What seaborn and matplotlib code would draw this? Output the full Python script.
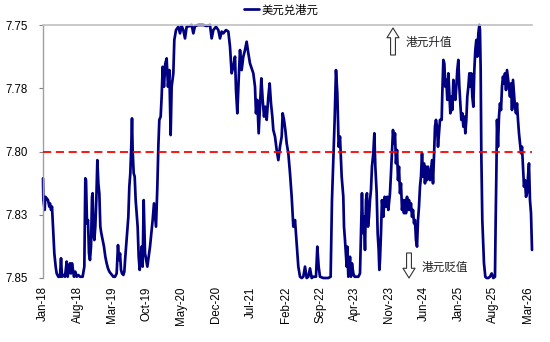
import numpy as np
import pandas as pd
import matplotlib
matplotlib.use("Agg")
import matplotlib.pyplot as plt
import seaborn as sns

# ---------------- data ----------------
# position in months since Jan-2018
month_pos = [
    0.00, 0.07, 0.34, 0.47, 0.74, 1.01, 1.28, 1.41, 1.62, 1.82, 2.09, 2.29, 2.56, 2.76, 3.10, 3.43,
    3.64, 3.84, 4.11, 4.44, 4.78, 4.98, 5.25, 5.45, 5.66, 5.86, 6.06, 6.26, 6.53, 6.80, 7.14, 7.47,
    8.01, 8.35, 8.55, 8.69, 8.89, 9.09, 9.29, 9.49, 9.70, 9.90, 10.03, 10.17, 10.37, 10.57, 10.77,
    10.98, 11.18, 11.38, 11.58, 11.78, 12.05, 12.32, 12.59, 12.86, 13.13, 13.41, 13.68, 13.94, 14.21,
    14.55, 14.88, 15.15, 15.35, 15.56, 15.76, 15.96, 16.23, 16.43, 16.63, 16.84, 17.04, 17.24, 17.44,
    17.64, 17.85, 17.98, 18.11, 18.32, 18.52, 18.72, 18.92, 19.12, 19.33, 19.53, 19.73, 19.93, 20.13,
    20.34,
    20.61, 21.08, 21.62, 22.15, 22.42, 22.83, 23.10, 23.30, 23.50, 23.77, 23.97, 24.18, 24.44, 24.71,
    24.98, 25.25, 25.52, 25.79, 25.99, 26.33, 26.53, 26.87, 27.34, 27.68, 28.01, 28.35, 28.69, 29.02,
    29.70, 30.03, 30.37, 30.71, 31.38, 32.39, 33.06, 33.74, 34.07, 34.41, 34.95, 35.42, 35.76, 36.09,
    36.43, 36.97, 37.44, 37.78, 38.11, 38.45, 38.79, 38.99, 39.26, 39.53,
    39.80, 40.13, 40.47, 40.81, 41.14, 41.48, 41.82, 42.15, 42.49, 42.83, 43.03, 43.30, 43.57, 43.84,
    44.11, 44.38, 44.65, 44.92, 45.19, 45.52, 45.79, 46.06, 46.33, 46.53, 46.87, 47.21, 47.54, 47.88,
    48.22, 48.42, 48.69, 48.96, 49.23, 49.56, 49.90, 50.24, 50.57, 50.91, 51.25, 51.58, 51.92, 52.26,
    52.59, 52.93, 53.27, 53.60, 53.94, 54.28, 54.61, 55.15, 55.42, 55.69, 55.96, 56.63, 57.64, 58.11,
    58.38, 58.65, 58.92, 59.19, 59.46, 59.73,
    60.00, 60.34, 60.67, 60.81, 61.01, 61.21, 61.35, 61.48, 61.68, 61.89, 62.02, 62.22, 62.42, 62.69,
    62.96, 63.37, 63.70, 64.04, 64.24, 64.44, 64.65, 64.85, 65.05, 65.25, 65.45, 65.66, 65.86, 66.06,
    66.26, 66.46, 66.73, 66.94, 67.14, 67.41, 67.61, 67.81, 67.95, 68.08, 68.28, 68.48, 68.75, 69.02,
    69.29, 69.56, 69.76, 70.10, 70.30, 70.51, 70.71, 70.91, 71.11, 71.31, 71.52, 71.72, 71.92, 72.12,
    72.32, 72.53, 72.73, 72.93, 73.13, 73.33, 73.54, 73.74, 73.94, 74.14, 74.34, 74.55, 74.75, 74.95,
    75.15, 75.35, 75.56, 75.76, 75.96, 76.16, 76.36, 76.57, 76.77, 76.97, 77.17, 77.37, 77.58, 77.78,
    77.98, 78.18, 78.38, 78.59, 78.79, 78.99, 79.19, 79.39, 79.60, 79.80, 80.00, 80.20,
    80.54, 80.67, 80.88, 81.08, 81.28, 81.48, 81.68, 81.89, 82.09, 82.29, 82.49, 82.69, 82.90, 83.10,
    83.30, 83.50, 83.70, 83.91, 84.11, 84.31, 84.51, 84.71, 84.92, 85.12, 85.32, 85.52, 85.72, 85.93,
    86.13, 86.33, 86.53, 86.73, 86.94, 87.14, 87.34, 87.54, 87.74, 87.95, 88.15, 88.28, 88.42, 88.55,
    88.75, 89.09, 89.36, 89.63, 89.97, 90.30, 90.64, 90.98, 91.31,
    91.45, 91.60, 91.72, 91.92, 92.12, 92.32, 92.53, 92.73, 92.93, 93.13, 93.33, 93.54, 93.74, 93.94,
    94.14, 94.34, 94.55, 94.75, 94.95, 95.15, 95.35, 95.56, 95.76, 95.96, 96.16, 96.36, 96.57, 96.77,
    96.97, 97.17, 97.37, 97.58, 97.78, 97.98, 98.18, 98.38, 98.59, 98.79,
]

usd_hkd = [
    7.8106, 7.8192, 7.8231, 7.8179, 7.8185, 7.8192, 7.8218, 7.8205, 7.8231, 7.8218, 7.8323, 7.8403,
    7.8455, 7.8482, 7.8495, 7.8495, 7.8422, 7.8495, 7.8488, 7.8495, 7.8435, 7.8495, 7.8468, 7.8442,
    7.8482, 7.8442, 7.8468, 7.8495, 7.8475, 7.8495, 7.8488, 7.8495, 7.8495, 7.8455, 7.8106, 7.8113,
    7.8284, 7.8271, 7.8403, 7.8429, 7.8376, 7.8179, 7.8165, 7.8323, 7.8350, 7.8297, 7.8192, 7.8034,
    7.8126, 7.8165, 7.8297, 7.8323, 7.8350, 7.8376, 7.8416, 7.8442, 7.8462, 7.8475, 7.8482, 7.8488,
    7.8495, 7.8495, 7.8482, 7.8370, 7.8429, 7.8403, 7.8468, 7.8482, 7.8488, 7.8475, 7.8416, 7.8363,
    7.8310, 7.8258, 7.8139, 7.8086, 7.7968, 7.7869, 7.7994, 7.8086, 7.8099, 7.8192, 7.8244, 7.8297,
    7.8416, 7.8468, 7.8429, 7.8376, 7.8455, 7.8192,
    7.8402, 7.8455, 7.8376, 7.8271, 7.8205, 7.8297, 7.8139, 7.7981, 7.7875, 7.7862, 7.7783, 7.7665,
    7.7744, 7.7652, 7.7632, 7.7744, 7.7678, 7.7935, 7.7744, 7.7691, 7.7559, 7.7520, 7.7507, 7.7533,
    7.7504, 7.7520, 7.7553, 7.7507, 7.7504, 7.7500, 7.7533, 7.7504, 7.7500, 7.7500, 7.7504, 7.7500,
    7.7553, 7.7520, 7.7507, 7.7520, 7.7553, 7.7526, 7.7533, 7.7520, 7.7526, 7.7586, 7.7691, 7.7665,
    7.7625, 7.7757, 7.7849, 7.7717,
    7.7599, 7.7678, 7.7625, 7.7599, 7.7566, 7.7612, 7.7652, 7.7671, 7.7691, 7.7744, 7.7849, 7.7796,
    7.7928, 7.7823, 7.7711, 7.7796, 7.7862, 7.7823, 7.7875, 7.7783, 7.7731, 7.7810, 7.7862, 7.7915,
    7.7941, 7.7994, 7.8034, 7.7981, 7.7941, 7.7849, 7.7875, 7.7915, 7.7968, 7.8007, 7.8086, 7.8179,
    7.8297, 7.8271, 7.8363, 7.8455, 7.8495, 7.8500, 7.8495, 7.8455, 7.8500, 7.8495, 7.8462, 7.8500,
    7.8495, 7.8495, 7.8376, 7.8455, 7.8495, 7.8500, 7.8500, 7.8495, 7.8192, 7.8034, 7.7875, 7.7678,
    7.7770, 7.7981,
    7.7941, 7.8099, 7.8179, 7.8297, 7.8350, 7.8416, 7.8455, 7.8376, 7.8495, 7.8455, 7.8416, 7.8495,
    7.8442, 7.8482, 7.8495, 7.8495, 7.8495, 7.8482, 7.8323, 7.8165, 7.8323, 7.8258, 7.8389, 7.8192,
    7.8165, 7.8297, 7.8258, 7.8192, 7.8152, 7.8060, 7.8007, 7.7928, 7.8060, 7.8165, 7.8323, 7.8389,
    7.8468, 7.8429, 7.8323, 7.8192, 7.8258, 7.8179, 7.8218, 7.8179, 7.8231, 7.8165, 7.8086, 7.7994,
    7.7915, 7.7968, 7.7928, 7.8047, 7.7994, 7.8113, 7.8060, 7.8165, 7.8126, 7.8231, 7.8192, 7.8244,
    7.8192, 7.8244, 7.8179, 7.8231, 7.8192, 7.8231, 7.8205, 7.8258, 7.8231, 7.8284, 7.8271, 7.8350,
    7.8376, 7.8271, 7.8218, 7.8139, 7.8099, 7.8007, 7.8099, 7.8047, 7.8126, 7.8060, 7.8113, 7.8060,
    7.8086, 7.8113, 7.8073, 7.8034, 7.8126, 7.8020, 7.7902, 7.7875, 7.7902, 7.7981, 7.7928, 7.7875,
    7.7875, 7.7770, 7.7638, 7.7652, 7.7744, 7.7717, 7.7796, 7.7691, 7.7770, 7.7849, 7.7783, 7.7836,
    7.7717, 7.7770, 7.7796, 7.7744, 7.7678, 7.7638, 7.7744, 7.7810, 7.7875, 7.7849, 7.7902, 7.7862,
    7.7928, 7.7875, 7.7783, 7.7744, 7.7691, 7.7744, 7.7691, 7.7783, 7.7823, 7.7678, 7.7599, 7.7559,
    7.7625, 7.7533, 7.7500, 7.7520, 7.7678, 7.8007, 7.8271, 7.8442, 7.8495, 7.8500, 7.8500, 7.8495,
    7.8482, 7.8500, 7.8495,
    7.8271, 7.8073, 7.7875, 7.7981, 7.7862, 7.7810, 7.7836, 7.7744, 7.7704, 7.7731, 7.7691, 7.7757,
    7.7678, 7.7711, 7.7744, 7.7783, 7.7731, 7.7836, 7.7717, 7.7770, 7.7823, 7.7849, 7.7810, 7.7875,
    7.7928, 7.7968, 7.8007, 7.7981, 7.8060, 7.8139, 7.8113, 7.8179, 7.8165, 7.8099, 7.8047, 7.8192,
    7.8244, 7.8389,
]

series_label = "美元兑港元"
peg_level = 7.80
y_ticks = [7.75, 7.775, 7.80, 7.825, 7.85]
y_tick_labels = ["7.75", "7.78", "7.80", "7.83", "7.85"]
x_tick_labels = ["Jan-18", "Aug-18", "Mar-19", "Oct-19", "May-20", "Dec-20", "Jul-21", "Feb-22",
                 "Sep-22", "Apr-23", "Nov-23", "Jun-24", "Jan-25", "Aug-25", "Mar-26"]
note_up = "港元升值"
note_down = "港元贬值"

# ---------------- build frame ----------------
start = pd.Timestamp("2018-01-01")
dates = start + pd.to_timedelta(np.array(month_pos) * 30.4375, unit="D")
df = pd.DataFrame({"date": dates, "rate": usd_hkd})
tick_dates = pd.to_datetime(["20" + s[-2:] + "-" + s[:3] + "-01" for s in x_tick_labels],
                            format="%Y-%b-%d")

# ---------------- style ----------------
sns.set_theme(style="white")
plt.rcParams["font.family"] = ["Liberation Sans", "Noto Sans CJK SC", "DejaVu Sans"]
plt.rcParams["axes.unicode_minus"] = False

fig = plt.figure(figsize=(5.5, 3.42), dpi=100)
ax = fig.add_axes([43 / 550, 1 - 278 / 342, (532 - 43) / 550, (278 - 25) / 342])

line_color = "#000080"
sns.lineplot(data=df, x="date", y="rate", ax=ax, color=line_color, linewidth=1.95,
             label=series_label, clip_on=False, estimator=None, sort=False)
ax.axhline(peg_level, color="#ff0000", linewidth=1.3, linestyle=(0, (4.5, 2.6)), zorder=3)

ax.set_ylim(7.85, 7.75)
ax.set_xlim(start, start + pd.Timedelta(days=98.79 * 30.4375))
ax.set_yticks(y_ticks)
ax.set_yticklabels(y_tick_labels)
ax.set_xticks(tick_dates)
ax.set_xticklabels(x_tick_labels, rotation=90, ha="center", va="top")
ax.set_xlabel("")
ax.set_ylabel("")

ax.tick_params(axis="y", which="major", length=3, width=0.8, color="#808080", pad=8,
               labelsize=8.3, labelcolor="#000000", direction="out", left=True)
ax.tick_params(axis="x", which="major", length=0, pad=6, labelsize=8.3, labelcolor="#000000")

for side in ["right", "bottom"]:
    ax.spines[side].set_visible(False)
ax.spines["left"].set_color("#a0a0a0")
ax.spines["left"].set_linewidth(1.0)
ax.spines["top"].set_color("#c0c0c0")
ax.spines["top"].set_linewidth(1.2)
ax.grid(False)

leg = ax.legend(loc="center", bbox_to_anchor=(0.487, 1.06), frameon=False, handlelength=1.35,
                handletextpad=0.25, fontsize=8.2, borderaxespad=0)
for t in leg.get_texts():
    t.set_color("#000000")

# hollow arrows with annotation text
arrow_style = "simple,head_length=0.5,head_width=0.62,tail_width=0.25"
ax.annotate("", xy=(393 / 550, 1 - 28 / 342), xytext=(393 / 550, 1 - 55 / 342),
            xycoords="figure fraction", textcoords="figure fraction",
            arrowprops=dict(arrowstyle=arrow_style, fc="white", ec="#333333", lw=0.8,
                            mutation_scale=14, shrinkA=0, shrinkB=0),
            annotation_clip=False)
ax.annotate("", xy=(409 / 550, 1 - 278 / 342), xytext=(409 / 550, 1 - 253 / 342),
            xycoords="figure fraction", textcoords="figure fraction",
            arrowprops=dict(arrowstyle=arrow_style, fc="white", ec="#333333", lw=0.8,
                            mutation_scale=14, shrinkA=0, shrinkB=0),
            annotation_clip=False)
fig.text(406 / 550, 1 - 42 / 342, note_up, fontsize=8.4, color="#222222", va="center", ha="left",
         family=["Noto Sans CJK SC", "DejaVu Sans"])
fig.text(422 / 550, 1 - 267 / 342, note_down, fontsize=8.4, color="#222222", va="center", ha="left",
         family=["Noto Sans CJK SC", "DejaVu Sans"])

fig.savefig("out.png", dpi=100)
